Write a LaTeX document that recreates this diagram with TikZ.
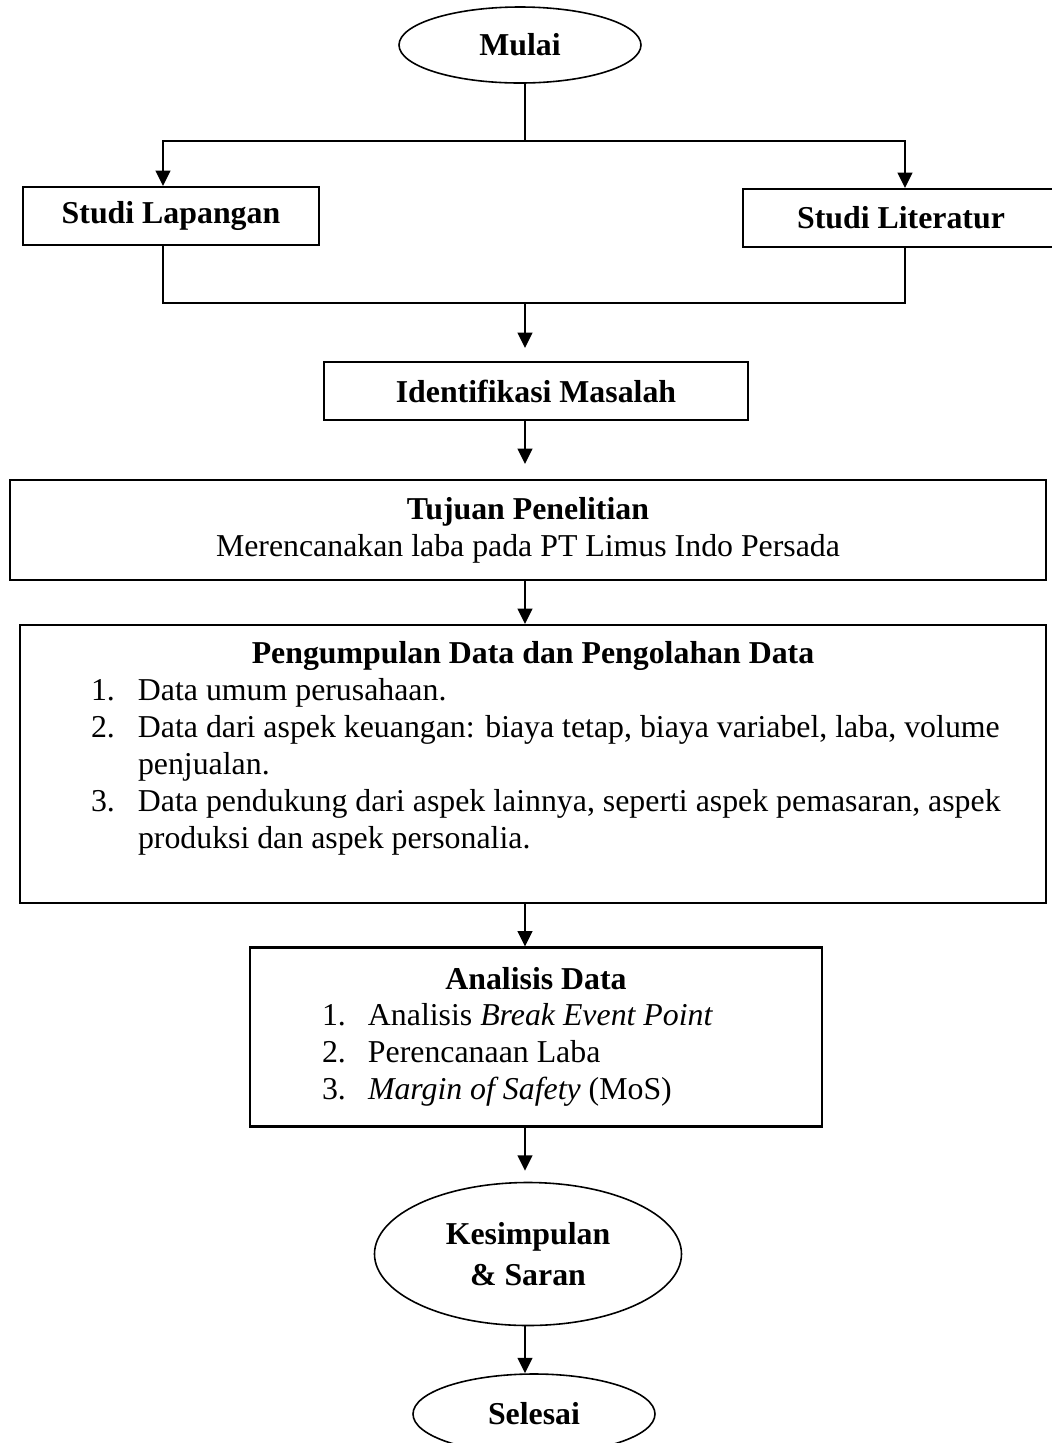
\documentclass[tikz,border=0pt]{standalone}
\usepackage{fontspec}
\setmainfont{Liberation Serif}
\usetikzlibrary{shapes.geometric,arrows.meta,calc}
\newlength{\pxu}
\setlength{\pxu}{0.377pt}
\begin{document}
\begin{tikzpicture}[x=0.377pt, y=-0.377pt,
    box/.style={draw, line width=0.8pt, inner sep=0pt,
      font=\fontsize{12}{13.9}\selectfont\bfseries},
    listbox/.style={draw, line width=0.8pt, inner sep=0pt,
      font=\fontsize{12}{13.9}\selectfont},
    oval/.style={draw, ellipse, line width=0.6pt, inner sep=0pt,
      font=\fontsize{12}{15.5}\selectfont\bfseries},
    link/.style={line width=0.6pt},
    arr/.style={line width=0.6pt, -{Triangle[width=5.6pt,length=5.8pt]}}]
  \useasboundingbox (0,0) rectangle (1052,1443);
  \clip (0,0) rectangle (1052,1443);

  \node (mulai) [oval, minimum width=242\pxu, minimum height=76\pxu] at (520,45) {Mulai};
  \node (lapangan) [box, minimum width=296\pxu, minimum height=58\pxu] at (171,216) {Studi Lapangan};
  \node (literatur) [box, minimum width=316\pxu, minimum height=58\pxu] at (901,218) {Studi Literatur};
  \node (identifikasi) [box, minimum width=424\pxu, minimum height=58\pxu] at (536,391) {Identifikasi Masalah};
  \node (tujuan) [listbox, minimum width=1036\pxu, minimum height=100\pxu, align=center] at (528,530)
    {\textbf{Tujuan Penelitian}\\Merencanakan laba pada PT Limus Indo Persada};
  \node (pengumpulan) [listbox, minimum width=1026\pxu, minimum height=278\pxu] at (533,764) {%
    \begin{tabular}{@{\hspace{71\pxu}}p{47\pxu}@{}p{908\pxu}@{}}
      \multicolumn{2}{@{}c@{}}{\bfseries Pengumpulan Data dan Pengolahan Data}\\
      1. & Data umum perusahaan.\\
      2. & Data dari aspek keuangan: biaya tetap, biaya variabel, laba, volume\\
         & penjualan.\\
      3. & Data pendukung dari aspek lainnya, seperti aspek pemasaran, aspek\\
         & produksi dan aspek personalia.\\[11.7pt]
    \end{tabular}};
  \node (analisis) [listbox, minimum width=572\pxu, minimum height=179\pxu] at (536,1037) {%
    \begin{tabular}{@{\hspace{72\pxu}}p{46\pxu}@{}p{454\pxu}@{}}
      \multicolumn{2}{@{}c@{}}{\bfseries Analisis Data}\\
      1. & Analisis \textit{Break Event Point}\\
      2. & Perencanaan Laba\\
      3. & \textit{Margin of Safety} (MoS)
    \end{tabular}};
  \node (kesimpulan) [oval, minimum width=307\pxu, minimum height=143\pxu, align=center] at (528,1254)
    {Kesimpulan\\\& Saran};
  \node (selesai) [oval, minimum width=242\pxu, minimum height=80\pxu] at (534,1414) {Selesai};

  % connectors
  \coordinate (split) at (525,141);
  \coordinate (merge) at (525,303);
  \draw[link] (mulai.south -| split) -- (split);
  \draw[arr] (split) -| ([xshift=-8\pxu]lapangan.north);
  \draw[arr] (split) -| ([xshift=4\pxu]literatur.north);
  \draw[link] ([xshift=-8\pxu]lapangan.south) |- (merge) -| ([xshift=4\pxu]literatur.south);
  \draw[arr, shorten >=13\pxu] (merge) -- (merge |- identifikasi.north);
  \draw[arr, shorten >=15\pxu] (identifikasi.south -| merge) -- (tujuan.north -| merge);
  \draw[arr] (tujuan.south -| merge) -- (pengumpulan.north -| merge);
  \draw[arr] (pengumpulan.south -| merge) -- (analisis.north -| merge);
  \draw[arr, shorten >=11\pxu] (analisis.south -| merge) -- (kesimpulan.north -| merge);
  \draw[arr] (kesimpulan.south -| merge) -- (selesai.north -| merge);
\end{tikzpicture}
\end{document}
